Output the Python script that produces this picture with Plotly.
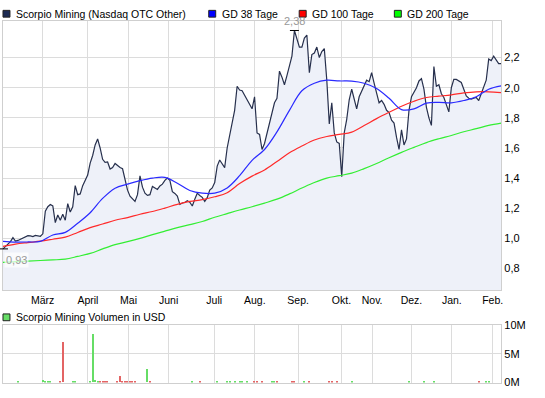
import plotly.graph_objects as go

# ---------------- data ----------------
price = [
    0.93, 0.945, 0.963, 0.978, 1.005, 0.982, 0.986, 0.993, 1.003, 1.012,
    1.018, 1.016, 1.012, 1.02, 1.016, 1.014, 1.03, 1.18, 1.21, 1.225,
    1.215, 1.105, 1.155, 1.12, 1.16, 1.12, 1.23, 1.175, 1.21, 1.35,
    1.29, 1.295, 1.35, 1.39, 1.42, 1.50, 1.55, 1.62, 1.66, 1.60,
    1.525, 1.505, 1.507, 1.46, 1.47, 1.497, 1.48, 1.47, 1.462, 1.40,
    1.32, 1.28, 1.265, 1.245, 1.29, 1.415, 1.34, 1.30, 1.285, 1.29,
    1.345, 1.332, 1.325, 1.348, 1.36, 1.385, 1.40, 1.385, 1.31, 1.298,
    1.28, 1.225, 1.235, 1.238, 1.25, 1.24, 1.215, 1.26, 1.30, 1.285,
    1.272, 1.245, 1.27, 1.32, 1.335, 1.37, 1.48, 1.52, 1.49, 1.47,
    1.60, 1.68, 1.76, 1.85, 2.01, 1.985, 1.98, 1.95, 1.93, 1.90,
    1.86, 1.94, 1.70, 1.69, 1.59, 1.63, 1.70, 1.75, 1.84, 1.90,
    1.93, 2.11, 2.07, 2.02, 2.08, 2.15, 2.21, 2.38, 2.32, 2.27,
    2.27, 2.33, 2.35, 2.10, 2.22, 2.23, 2.27, 2.20, 2.24, 2.26,
    2.05, 1.76, 1.90, 1.70, 1.64, 1.63, 1.41, 1.70, 1.79, 1.92,
    1.99, 1.93, 1.86, 1.94, 1.98, 2.01, 2.05, 2.04, 2.10, 2.03,
    1.955, 1.90, 1.915, 1.89, 1.85, 1.835, 1.785, 1.765, 1.67, 1.59,
    1.72, 1.62, 1.66, 1.85, 1.94, 1.97, 2.00, 2.045, 2.06, 1.99,
    1.87, 1.80, 1.75, 2.14, 2.01, 2.02, 1.96, 1.935, 1.88, 1.84,
    2.00, 2.055, 2.055, 2.045, 2.035, 1.99, 1.945, 1.93, 1.925, 1.93,
    1.935, 1.915, 1.96, 2.01, 2.05, 2.19, 2.18, 2.21, 2.18, 2.16,
    2.16,
]

ma_step = 5
gd38 = [0.98, 0.975, 0.976, 0.98, 1.022, 1.04, 1.10, 1.17, 1.265, 1.333,
        1.36, 1.383, 1.40, 1.405, 1.366, 1.318, 1.30, 1.30, 1.335, 1.416,
        1.518, 1.59, 1.707, 1.85, 1.98, 2.03, 2.05, 2.045, 2.044, 2.03,
        1.995, 1.93, 1.855, 1.86, 1.898, 1.903, 1.90, 1.915, 1.94, 1.99, 2.012]
gd100 = [0.947, 0.962, 0.972, 0.981, 0.994, 1.008, 1.039, 1.071, 1.095, 1.12,
         1.138, 1.16, 1.178, 1.201, 1.226, 1.245, 1.257, 1.276, 1.303, 1.364,
         1.413, 1.454, 1.51, 1.568, 1.613, 1.653, 1.676, 1.69, 1.705, 1.749,
         1.795, 1.837, 1.877, 1.91, 1.935, 1.944, 1.953, 1.966, 1.973, 1.973, 1.967]
gd200 = [0.84, 0.845, 0.849, 0.853, 0.857, 0.862, 0.88, 0.90, 0.93, 0.958,
         0.978, 1.0, 1.025, 1.048, 1.071, 1.091, 1.112, 1.14, 1.164, 1.188,
         1.21, 1.234, 1.26, 1.295, 1.334, 1.371, 1.40, 1.416, 1.433, 1.463,
         1.497, 1.535, 1.571, 1.604, 1.636, 1.661, 1.683, 1.708, 1.728, 1.75, 1.765]

# volume (millions USD): trading-day index, value, direction
vol_day = [6, 16, 17, 18, 19, 23, 24, 28, 29, 35, 36, 37, 38, 39, 40, 41, 42,
           46, 47, 48, 49, 50, 51, 52, 53, 58, 59, 76, 79, 86, 90, 91, 93, 95,
           96, 98, 101, 102, 104, 108, 109, 110, 116, 117, 121, 123, 131, 132,
           134, 140, 163, 169, 173, 191, 194, 195]
vol_m = [0.1, 0.4, 0.17, 0.17, 0.22, 0.1, 7.05, 0.1, 0.1, 0.1, 8.4, 0.4, 0.15,
         0.15, 0.22, 0.1, 0.1, 0.1, 1.13, 0.15, 0.1, 0.1, 0.1, 0.1, 0.1, 2.3,
         0.1, 0.1, 0.1, 0.2, 0.1, 0.1, 0.1, 0.1, 0.1, 0.1, 0.1, 0.28, 0.1,
         0.15, 0.22, 0.22, 0.1, 0.1, 0.1, 0.1, 0.1, 0.1, 0.1, 0.22, 0.1, 0.1,
         0.1, 0.1, 0.1, 0.1]
vol_dir = ["u", "u", "u", "u", "u", "d", "d", "u", "u", "u", "u", "u", "u",
           "d", "d", "d", "d", "d", "d", "d", "d", "d", "d", "d", "d", "u",
           "d", "u", "d", "u", "u", "u", "u", "u", "u", "u", "d", "d", "d",
           "u", "u", "d", "d", "d", "u", "d", "d", "d", "d", "u", "u", "u",
           "u", "d", "u", "u"]

month_labels = ["März", "April", "Mai", "Juni", "Juli", "Aug.", "Sep.",
                "Okt.", "Nov.", "Dez.", "Jan.", "Feb."]
month_pos = [15.9, 34.1, 50.4, 66.5, 84.8, 101.1, 118.5, 135.9, 148.2,
             164.0, 180.2, 196.6]

price_y_ticks = [0.8, 1.0, 1.2, 1.4, 1.6, 1.8, 2.0, 2.2]
vol_ticks = [0, 5, 10]
vol_tick_text = ["0M", "5M", "10M"]

# ---------------- figure ----------------
W, H = 545, 398
def px(x):
    return x / W
def py(y):
    return 1 - y / H

FONT = "Liberation Sans"
FS = 10.5
days = list(range(len(price)))
ma_days = [i * ma_step for i in range(len(gd38))]

C_PRICE = "#27304d"
C_FILL = "#eef1f9"
C_BLUE = "#2a2aff"
C_RED = "#ff2a2a"
C_GREEN = "#33ee33"
C_VUP = "#66dd66"
C_VDN = "#e36464"
GRID = "#dcdcdc"

fig = go.Figure()
fig.add_trace(go.Scatter(x=days, y=price, mode="lines", fill="tozeroy",
                         fillcolor=C_FILL, line=dict(color=C_PRICE, width=1.2),
                         xaxis="x", yaxis="y"))
fig.add_trace(go.Scatter(x=ma_days, y=gd200, mode="lines",
                         line=dict(color=C_GREEN, width=1.2, shape="spline"),
                         xaxis="x", yaxis="y"))
fig.add_trace(go.Scatter(x=ma_days, y=gd100, mode="lines",
                         line=dict(color=C_RED, width=1.2, shape="spline"),
                         xaxis="x", yaxis="y"))
fig.add_trace(go.Scatter(x=ma_days, y=gd38, mode="lines",
                         line=dict(color=C_BLUE, width=1.2, shape="spline"),
                         xaxis="x", yaxis="y"))
fig.add_trace(go.Bar(x=vol_day, y=vol_m,
                     marker=dict(color=[C_VUP if d == "u" else C_VDN for d in vol_dir],
                                 line=dict(width=0)),
                     width=0.5, xaxis="x2", yaxis="y2"))

x_dom = [px(3), px(503)]
xrange = [0, len(price) - 1]

axis_common = dict(showline=True, mirror=True, linecolor="#cfcfcf", linewidth=1,
                   gridcolor=GRID, gridwidth=1, zeroline=False, ticks="",
                   fixedrange=True)

fig.update_layout(
    width=W, height=H, margin=dict(l=0, r=0, t=0, b=0),
    paper_bgcolor="white", plot_bgcolor="white",
    showlegend=False, separators=",.",
    font=dict(family=FONT, size=FS, color="#000000"),
    bargap=0,
    xaxis=dict(domain=x_dom, range=xrange, anchor="y", tickmode="array",
               tickvals=month_pos, ticktext=month_labels, showgrid=True,
               tickfont=dict(size=FS), **axis_common),
    yaxis=dict(domain=[py(293), py(15)], range=[0.656, 2.446], side="right",
               anchor="x", tickmode="array", tickvals=price_y_ticks,
               tickformat=".1f", showgrid=True, tickfont=dict(size=11),
               **axis_common),
    xaxis2=dict(domain=x_dom, range=xrange, anchor="y2", tickmode="array",
                tickvals=month_pos, showticklabels=False, showgrid=True,
                **axis_common),
    yaxis2=dict(domain=[py(388.3), py(329.3)], range=[0, 10], side="right",
                anchor="x2", tickmode="array", tickvals=vol_ticks,
                ticktext=vol_tick_text, showgrid=True, tickfont=dict(size=11),
                **axis_common),
)

# legends (drawn as squares + text)
shapes = []
annotations = []
legend_items = [
    (3, "Scorpio Mining (Nasdaq OTC Other)", "#1c2a52", 8),
    (209.5, "GD 38 Tage", "#0000ff", 8),
    (300.3, "GD 100 Tage", "#ff0000", 8),
    (395.8, "GD 200 Tage", "#00ff00", 8),
    (3, "Scorpio Mining Volumen in USD", C_VUP, 321),
]
for x0, label, col, yc in legend_items:
    shapes.append(dict(type="rect", xref="paper", yref="paper",
                       x0=px(x0), x1=px(x0 + 7), y0=py(yc - 3.5), y1=py(yc + 3.5),
                       fillcolor=col, line=dict(color="#222222", width=1)))
    annotations.append(dict(xref="paper", yref="paper", x=px(x0 + 11), y=py(yc),
                            xanchor="left", yanchor="middle", text=label,
                            showarrow=False, font=dict(size=FS, color="#000000")))

# max / min markers derived from data
imax = max(range(len(price)), key=lambda i: price[i])
imin = min(range(len(price)), key=lambda i: price[i])
shapes.append(dict(type="line", xref="x", yref="y", x0=imax - 1.8, x1=imax + 1.8,
                   y0=price[imax], y1=price[imax], line=dict(color="#000000", width=1)))
shapes.append(dict(type="line", xref="paper", yref="y", x0=0, x1=px(8),
                   y0=price[imin], y1=price[imin], line=dict(color="#000000", width=1)))
annotations.append(dict(xref="x", yref="y", x=imax, y=price[imax],
                        text=f"{price[imax]:.2f}".replace(".", ","),
                        showarrow=False, xanchor="center", yanchor="bottom",
                        yshift=1, font=dict(size=11, color="#999999")))
annotations.append(dict(xref="x", yref="y", x=imin, y=price[imin],
                        text=f"{price[imin]:.2f}".replace(".", ","),
                        showarrow=False, xanchor="left", yanchor="top",
                        xshift=1, yshift=-3, bgcolor="rgba(255,255,255,0.7)",
                        font=dict(size=11, color="#999999")))

fig.update_layout(shapes=shapes, annotations=annotations)
fig.write_html("out.html",
               config={"displayModeBar": False},
               post_script="document.body.style.margin='0';")
